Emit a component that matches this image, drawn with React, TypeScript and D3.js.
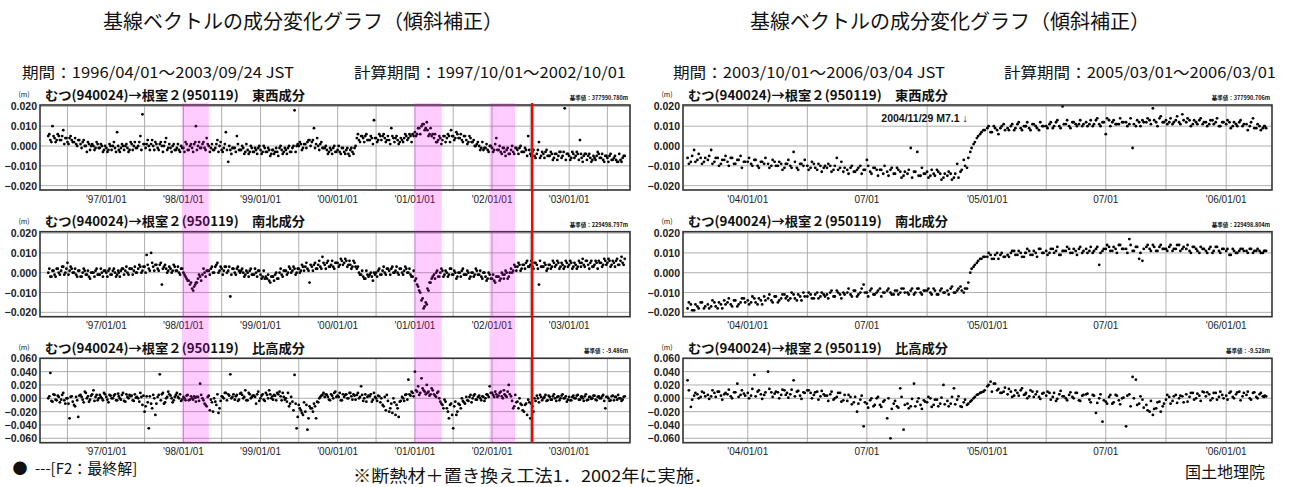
import React from 'react';
import * as d3 from 'd3';

// ---------------- data (mm) ----------------
// left: 1996/04 .. 2003/09; set A on day 1, 11, 21; set B on day 6, 16, 26 (last month up to 09/16)
const leftDaysA = [1, 11, 21];
const leftDaysB = [6, 16, 26];
// right: 2003/10 .. 2006/03/04; set A on day 1,6,..,26 (+03/01); set B on day 3,8,..,28 (+03/03)
const rightDaysA = [1, 6, 11, 16, 21, 26];
const rightDaysB = [3, 8, 13, 18, 23, 28];

const ewLeft = [
  5, 3, 10, 4, 3, 5, 3, 8, 4, 2, 4, 3, 2, 1, 3, 1, 2, 0, -3, 1, 0, 0, -1, 1, -1, 0, -2,
  -1, -2, 0, 0, -1, 7, -2, -1, 0, 0, -1, -2, 1, 0, -1, 0, 5, 16, 1, 1, 0, 1, 0, 2, -1, 1, 0, 0, 4, -1, -1, 0, -2, -1, -2, 0,
  -1, 2, -2, 0, -1, 1, 10, 0, -1, 1, -1, 4, 0, -1, -2, -1, 3, 0, -2, -1, 7, -8, -2, -1, -1, 5, -2, -2, -1, -3, -2, -3, -1, -3, -2, -1,
  -2, -3, -1, -3, -2, -4, -2, -3, -3, -1, -2, -3, -2, -1, -3, -1, 18, 0, 0, 1, -1, 1, 2, 3, 2, 9, 1, 0, 1, -1, -1, -2, -3, -2, -1, -3,
  -2, -3, -1, -3, -2, -4, -2, -3, -1, 4, 3, 5, 4, 5, 3, 3, 4, 13, 4, 3, 5, 5, 4, 3, 3, 9, 4, 4, 3, 2, 3, 4, 5, 4, 5, 6,
  7, 6, 9, 10, 11, 9, 8, 6, 5, 4, 2, 3, 4, 3, 5, 4, 5, 8, 5, 4, 6, 4, 3, 5, 3, 2, 4, 2, 0, 1, 0, -1, -2, -1, -2, 0,
  -1, -2, 4, -2, -3, -1, -3, -2, -4, -2, -3, -1, -2, -1, -3, -3, -2, 5, -4, -3, -5, -4, 2, -5, -4, -3, -5, -5, -4, -6, -4, -5, -3, -5, 19, -4,
  -5, -6, -4, -5, -4, 3, -6, -5, -4, -5, -6, -7, -6, -5, -4, -6, -7, -5, -6, -5, -7, -6, -7, -8, -7, -6, -5,
];
const ewLeftB = [
  6, 2, 5, 2, 6, 3, 5, 1, 4, 1, 5, 2, 4, 0, 3, -1, 3, 0, 2, -2, 1, -2, 2, -1, 1, -3, 0,
  -3, 1, -2, 2, -3, 0, -3, 1, -2, 1, -3, 2, -2, 2, -1, 2, -2, 1, -1, 3, -2, 3, -2, 1, -2, 2, -3, 2, -2, 1, -3, 1, -2, 1, -3, -1,
  -3, 1, -2, 1, -3, 2, -2, 2, -1, 2, -2, 1, -3, 1, -2, 1, -3, 2, -3, 1, -2, 0, -4, -1, -3, 1, -2, 0, -4, 1, -4, 0, -3, -1, -4, 0,
  -4, 0, -3, -1, -5, -2, -4, -1, -5, 0, -4, -1, -4, 0, -3, 0, -3, 1, 2, -2, 1, -1, 3, 0, 3, -1, 4, -2, 2, -1, 0, -4, -1, -4, 0, -3,
  0, -4, -1, -4, -1, -5, -1, -4, 0, 6, 2, 5, 2, 6, 3, 5, 1, 4, 2, 6, 3, 6, 2, 5, 1, 5, 2, 5, 1, 4, 2, 6, 3, 6, 2, 5,
  5, 9, 6, 11, 8, 12, 5, 9, 6, 6, 2, 5, 1, 5, 2, 6, 2, 5, 3, 7, 4, 6, 2, 5, 1, 5, 2, 3, 0, 2, -2, 2, -1, 1, -3, 0,
  -3, 1, -2, 0, -4, -1, -5, -1, -4, 0, -4, -1, -4, 0, -3, -1, -5, -2, -5, -2, -6, -2, -6, -3, -6, -2, -5, -3, -7, -4, -7, -3, -6, -3, -7, -4,
  -7, -3, -6, -3, -7, -4, -8, -4, -7, -4, -8, -5, -7, -3, -6, -4, -8, -5, -8, -4, -7, -5, -8, -4, -8, -5,
];

const nsLeft = [
  0, -2, 1, -1, 2, 0, 1, 3, 0, 5, 1, 2, 0, -1, 1, -2, 0, 1, -1, -2, 0, 0, 1, -1, -1, 0, 1,
  0, 1, -1, 1, 0, -1, 0, 1, 2, 1, 0, 2, 2, 1, 0, 2, 3, 1, 3, 9, 2, 10, 3, 4, 2, 4, -6, 3, 2, 1, 2, 1, 3, 1, 0, 2,
  0, -2, -4, -6, -8, -7, -5, -3, -2, -1, 0, 1, 1, 2, 0, 3, 5, 1, 2, 1, 3, 1, -12, 2, 0, 2, 1, 1, 0, -1, 0, 1, -1, -1, 0, 1,
  -1, -2, -3, -3, -4, -2, -2, -1, -3, 0, -1, 1, 1, 0, 2, 1, 2, 0, 2, 1, 3, 3, 2, -5, 3, 4, 2, 4, 3, 8, 4, 5, 3, 4, 3, 5,
  5, 4, 6, 5, 6, 4, 4, 3, 5, 2, 0, -1, -2, -3, -1, -1, -2, 0, 0, 1, -1, 1, 0, 2, 1, 2, 0, 1, 0, 2, 0, 1, 2, 0, -1, -2,
  -4, -6, -9, -14, -18, -15, -8, -5, -3, -1, 0, -2, 0, 1, -1, 0, -1, 2, -1, 0, -2, 0, 1, -1, -1, 0, -2, 0, -1, 1, -1, -2, 0, -2, -3, -1,
  -3, -4, -2, -2, -3, -1, -1, 0, -2, 2, 1, 3, 3, 4, 2, 4, 5, 3, 4, 3, 5, 4, -6, 3, 3, 4, 2, 4, 3, 5, 4, 5, 3, 4, 3, 5,
  4, 5, 3, 4, 3, 5, 5, 4, 6, 4, 5, 3, 4, 5, 6, 5, 4, 6, 5, 6, 4, 5, 6, 4, 6, 5, 7,
];
const nsLeftB = [
  2, -2, 1, -2, 2, -1, 3, -1, 2, -1, 3, 0, 2, -2, 1, -2, 2, -1, 1, -3, 0, -2, 2, -1, 2, -2, 1,
  -2, 2, -1, 2, -2, 1, -2, 2, -1, 3, -1, 2, -1, 3, 0, 4, 0, 3, 0, 4, 1, 5, 1, 4, 1, 5, 2, 4, 0, 3, 0, 4, 1, 3, -1, 2,
  -1, -3, -4, -5, -9, -6, -5, -1, -4, 2, -2, 1, -1, 3, 0, 4, 0, 3, -1, 3, 0, 3, -1, 2, -1, 3, 0, 2, -2, 1, -2, 2, -1, 2, -2, 1,
  -3, 1, -2, -1, -5, -2, -4, 0, -3, 2, -2, 1, -1, 3, 0, 3, -1, 2, 0, 4, 1, 5, 1, 4, 1, 5, 2, 6, 2, 5, 2, 6, 3, 6, 2, 5,
  3, 7, 4, 7, 3, 6, 2, 6, 3, 3, -1, 1, -3, 1, -2, 0, -4, -1, -2, 2, -1, 3, -1, 2, -1, 3, 0, 3, -1, 2, -1, 3, 0, 2, -2, 1,
  -3, -7, -10, -13, -17, -16, -9, -5, -2, -3, 1, -2, 2, -2, 1, -2, 2, -1, 1, -3, 0, -2, 2, -1, 1, -3, 0, -2, 2, -1, 1, -3, 0, -4, 0, -3,
  -1, -5, -2, -4, 0, -3, 1, -3, 0, 0, 4, 1, 5, 1, 4, 2, 6, 3, 6, 2, 5, 2, 6, 3, 5, 1, 4, 2, 6, 3, 6, 2, 5, 2, 6, 3,
  6, 2, 5, 2, 6, 3, 7, 3, 6, 2, 6, 3, 6, 2, 5, 3, 7, 4, 7, 3, 6, 3, 7, 4, 8, 4,
];

const udLeft = [
  0, 38, -5, 5, -3, 2, -2, 8, -8, 0, -30, 3, -10, 2, -28, 5, -2, 10, 0, -5, 4, 12, 2, -3, 5, 0, 8,
  2, -6, 4, 0, 6, -3, 3, -2, 8, -5, 2, 5, 4, -4, 1, 0, 8, -10, -20, 3, -45, -8, 5, -25, 2, 36, 6, -8, 0, 10, 4, -6, 2, 8, 0, -4,
  2, -3, 5, -2, 0, 3, -5, 2, 22, 0, -8, -12, 4, -2, -20, -5, 6, -15, 3, 0, 8, 6, 36, 2, -2, 5, -2, 8, 0, 12, -3, 6, 2, 4, -8, 10,
  0, 6, -4, 5, 12, 0, -2, 4, 8, 10, -3, 2, 0, 8, -8, -5, 35, -45, -10, -18, -25, -20, -47, -12, -15, -8, -30, -6, 2, 5, 2, 5, -2, 6, 0, 10,
  4, 8, -3, 2, 6, 0, 8, -2, 4, 5, 0, 18, -4, 6, 2, 3, -5, 8, 0, 4, -6, -10, 2, 5, -20, -8, 0, -25, -15, -5, 2, -4, 6, 28, 4, 8,
  40, 10, 5, 30, 12, 6, 8, 4, 15, 6, 2, 10, -5, -10, -2, -15, -30, -8, -45, -5, -20, -10, 0, -6, 2, -4, 5, 0, 6, -2, 4, -3, 2, 0, 5, 18,
  8, 2, 6, 4, 10, 0, 6, 2, 20, 3, -15, 5, -5, 0, -10, -20, -8, -2, -30, -12, 0, 4, -6, 2, 0, 5, -3, 2, -2, 6, -4, 3, 0, 6, 0, -5,
  2, -3, 4, 0, 5, -2, 3, -4, 6, -2, 2, 0, 4, -3, 3, 0, 5, -15, 2, -4, 3, -3, 2, 5, 0, -2, 3,
];
const udLeftB = [
  3, -4, 6, -2, 4, -6, 5, -3, 0, -8, 2, -5, -12, -3, 4, 2, -6, 8, 3, -2, 6, -4, 5, 0, 2, -3, 6,
  -2, 5, 0, 4, -3, 7, 0, 5, -4, 6, 0, 3, -3, 6, 2, -5, 2, 4, -12, -6, 3, -15, 0, -8, 5, -3, 8, -6, 2, 6, 0, -3, 5, 2, 6, -2,
  0, 4, -3, 3, -2, 1, 2, -4, 5, -3, -10, 2, -18, -6, 0, -10, -22, -4, 2, 8, -3, 4, 0, 6, 3, -4, 7, 5, 2, -3, 8, 0, 4, 2, 6, -4,
  4, -2, 8, 0, 6, 3, 5, -3, 6, 3, 8, -2, -5, -12, 2, -18, -8, -28, -15, -22, -6, -10, -30, -15, -20, -12, -5, 0, 4, 8, 6, 2, -3, 4, 8, 2,
  2, -3, 6, 5, 0, 8, 3, 6, -2, 8, 2, 5, 0, -5, 4, 6, -2, 2, -4, 3, 0, -12, -18, -4, -15, -22, -6, -10, -28, -4, 0, 5, -2, 6, 10, 3,
  12, 18, 8, 15, 10, 20, 10, 6, 12, 4, 8, 0, -8, -15, -5, -20, -10, -25, -12, -25, -8, -15, -4, -8, -3, 2, -6, 4, -2, 2, 0, 3, -4, 6, 2, 8,
  5, 10, 2, 8, 3, 12, 4, 10, 6, -4, -12, -6, -15, -8, -18, -10, -25, -6, -8, -20, -4, 0, 5, -3, 2, -4, 4, -2, 3, 0, 2, -3, 4, 0, 3, -2,
  -3, 2, 0, 4, -2, 2, 0, 3, -3, 2, -1, 4, -2, 2, 0, 3, -4, 2, 0, -3, 4, 2, -2, 0, -4, 2,
];

const ewRight = [
  -6, -8, -2, -7, -6, -8, -7, -2, -8, -6, -9, -7, -8, -6, -9, -7, -5, -8,
  -8, -9, -7, -10, -8, -9, -9, -10, -8, -10, -9, -11, -9, -10, -3, -11, -9, -10, -10, -11, -9, -12, -10, -11,
  -11, -10, -12, -6, -11, -13, -12, -11, -13, -12, -10, -12, -7, -13, -11, -12, -12, -14, -13, -12, -14, -11, -13, -15,
  -14, -1, -13, -3, -15, -14, -13, -15, -14, -12, -14, -16, -15, -14, -16, -9, -13, -7, -11, -3, 1, 4, 6, 8,
  9, 7, 10, 8, 9, 11, 9, 10, 8, 11, 9, 10, 10, 9, 11, 10, 8, 10, 10, 11, 9, 12, 10, 20,
  11, 10, 12, 11, 11, 10, 12, 11, 10, 13, 11, 12, 6, 13, 12, 11, 11, 12, 12, 11, -1, 10, 12, 13,
  12, 13, 19, 12, 14, 12, 13, 12, 11, 13, 12, 16, 12, 13, 11, 12, 13, 11, 12, 11, 13, 12, 10, 12,
  11, 12, 10, 11, 12, 10, 11, 10, 14, 9, 10, 9, 10,
];
const ewRightB = [
  -9, -5, -8, -4, -9, -6, -5, -9, -6, -10, -7, -5, -10, -6, -9, -7, -11, -8,
  -6, -10, -7, -11, -8, -6, -11, -7, -10, -8, -12, -9, -7, -11, -8, -12, -9, -7, -12, -8, -11, -9, -13, -10,
  -9, -13, -10, -12, -8, -11, -14, -10, -13, -11, -14, -12, -10, -14, -11, -15, -12, -10, -15, -11, -14, -12, -16, -13,
  -12, -16, -13, -15, -11, -14, -16, -12, -15, -13, -17, -14, -13, -17, -14, -16, -12, -10, -6, -1, 2, 5, 7, 8,
  10, 7, 9, 6, 10, 8, 8, 11, 9, 12, 8, 10, 12, 8, 11, 9, 12, 10, 9, 12, 10, 13, 9, 11,
  13, 9, 12, 10, 13, 11, 10, 13, 11, 14, 10, 12, 14, 10, 13, 11, 14, 12, 10, 14, 11, 13, 10, 12,
  14, 11, 13, 10, 15, 12, 11, 14, 12, 15, 11, 13, 14, 10, 13, 11, 14, 12, 10, 13, 11, 14, 10, 12,
  13, 9, 12, 10, 13, 11, 8, 12, 9, 11, 8, 10, 9,
];

const nsRight = [
  -18, -16, -19, -17, -15, -18, -16, -17, -15, -18, -16, -14, -15, -16, -14, -17, -15, -13,
  -14, -15, -13, -16, -14, -12, -13, -14, -12, -15, -13, -11, -12, -13, -11, -14, -12, -10, -12, -11, -13, -10, -12, -11,
  -11, -10, -12, -9, -11, -10, -10, -11, -9, -12, -10, -6, -10, -9, -11, -10, -8, -10, -9, -10, -11, -9, -10, -8,
  -10, -9, -11, -8, -10, -9, -9, -10, -8, -11, -9, -10, -9, -8, -10, -9, -7, -10, -8, 0, 3, 5, 7, 8,
  8, 9, 7, 10, 9, 8, 9, 10, 11, 9, 10, 8, 10, 11, 9, 10, 12, 10, 11, 10, 12, 11, 9, 11,
  11, 12, 10, 11, 12, 10, 12, 11, 10, 12, 4, 11, 12, 13, 11, 12, 14, 12, 12, 17, 11, 13, 7, 6,
  13, 12, 14, 11, 13, 12, 12, 13, 11, 12, 14, 12, 12, 11, 13, 12, 10, 12, 11, 12, 10, 13, 11, 12,
  11, 9, 12, 10, 11, 12, 11, 12, 10, 11, 11, 10, 11,
];
const nsRightB = [
  -15, -19, -16, -18, -15, -17, -18, -14, -17, -15, -18, -16, -13, -17, -14, -16, -13, -15,
  -16, -12, -15, -13, -16, -14, -11, -15, -12, -14, -11, -13, -14, -10, -13, -11, -14, -12, -10, -13, -11, -13, -10, -12,
  -13, -9, -12, -10, -13, -11, -8, -12, -9, -11, -8, -10, -12, -8, -11, -9, -12, -10, -8, -11, -9, -11, -8, -10,
  -11, -8, -10, -8, -11, -9, -8, -11, -9, -11, -8, -10, -11, -7, -10, -8, -9, -8, -5, 2, 4, 6, 7, 8,
  10, 7, 9, 7, 10, 8, 8, 11, 9, 11, 8, 10, 12, 9, 11, 8, 12, 10, 9, 12, 10, 13, 9, 11,
  13, 10, 12, 9, 13, 11, 10, 13, 11, 13, 10, 12, 14, 11, 13, 10, 14, 12, 10, 14, 11, 13, 10, 12,
  14, 11, 13, 11, 14, 12, 11, 14, 12, 14, 11, 13, 14, 10, 13, 11, 13, 12, 10, 13, 11, 13, 10, 12,
  12, 9, 11, 10, 12, 11, 10, 12, 11, 12, 10, 11, 11,
];

const udRight = [
  27, -13, 4, 6, 2, 8, 5, 3, 8, 10, 4, 6, 6, 3, 9, 22, 5, 7,
  8, 4, 35, 10, 6, 5, 40, 9, 7, 9, 5, 12, 8, 6, 27, 10, 4, 9, 12, 8, 5, 10, 3, 6,
  4, 6, -2, 2, 8, -3, -4, 2, -6, -20, -2, -42, -8, -3, -12, 0, -10, -5, -30, -60, -8, -12, 15, -47,
  -8, -12, 22, -5, -10, -3, -6, 0, -10, -2, -8, 20, -4, -8, 15, -2, -12, -6, -10, -5, 0, 5, 8, 10,
  18, 25, 22, 12, 8, 10, 6, 10, 4, 8, 12, 5, 8, 3, 10, 6, 2, 7, 4, 8, 2, -4, 6, 3,
  0, 5, 2, 8, -3, 4, 6, -2, 5, -22, 0, -35, -5, 2, -8, 5, -3, 0, -42, 6, 32, 28, -8, -2,
  -10, -20, -25, -15, -5, -12, -2, 2, -4, 5, 0, 3, 6, 2, 8, 0, 4, 10, 3, 6, 0, 8, 2, 5,
  4, 8, 2, 6, 10, 3, 5, 0, 8, 2, 6, 3, 4,
];
const udRightB = [
  12, -2, 8, 0, 10, 3, -1, 12, 2, 10, -2, 8, 13, 0, 9, 2, 12, 4,
  0, 14, 3, 12, -1, 9, 14, 2, 10, 0, 13, 5, 1, 13, 3, 11, -1, 8, 12, 0, 9, -2, 11, 4,
  -4, 10, 0, 8, -5, 5, 5, -9, 2, -8, 4, -6, -14, 0, -10, 2, -13, -3, 0, -16, -4, -14, 2, -10,
  -15, -1, -12, 0, -16, -5, 2, -13, -2, -12, 1, -9, -12, 2, -9, 3, -13, -2, -8, -3, 2, 6, 9, 12,
  20, 10, 22, 14, 8, 16, 14, 2, 12, 4, 15, 6, 0, 12, 2, 10, -1, 8, 10, -2, 8, -1, 11, 3,
  -3, 9, 0, 8, -4, 5, 7, -6, 4, -7, 6, -3, -8, 5, -6, 4, -9, 1, 4, -12, 0, -10, 3, -14,
  -18, -4, -16, -6, -20, -8, 5, -8, 3, -7, 4, -6, -5, 8, -2, 7, -4, 9, 9, -3, 8, -2, 10, 0,
  -2, 10, 0, 9, -3, 8, 10, -2, 9, 0, 8, 2, 3,
];

const refLeft = ['377990.780m', '229498.797m', '-9.486m'];
const refRight = ['377990.706m', '229498.804m', '-9.528m'];

const hTicks = [-0.02, -0.01, 0, 0.01, 0.02];
const vTicks = [-0.06, -0.04, -0.02, 0, 0.02, 0.04, 0.06];

const leftGrid = ['1996-07-01', '1997-01-01', '1997-07-01', '1998-01-01', '1998-07-01', '1999-01-01', '1999-07-01',
  '2000-01-01', '2000-07-01', '2001-01-01', '2001-07-01', '2002-01-01', '2002-07-01', '2003-01-01', '2003-07-01'];
const leftLabels = [['1997-01-01', "'97/01/01"], ['1998-01-01', "'98/01/01"], ['1999-01-01', "'99/01/01"],
  ['2000-01-01', "'00/01/01"], ['2001-01-01', "'01/01/01"], ['2002-01-01', "'02/01/01"], ['2003-01-01', "'03/01/01"]];
const rightGrid = ['2004-01-01', '2004-04-01', '2004-07-01', '2004-10-01', '2005-01-01', '2005-04-01', '2005-07-01',
  '2005-10-01', '2006-01-01'];
const rightLabels = [['2004-01-01', "'04/01/01"], ['2004-07-01', '07/01'], ['2005-01-01', "'05/01/01"],
  ['2005-07-01', '07/01'], ['2006-01-01', "'06/01/01"]];

const bands = [['1997-12-25', '1998-05-01'], ['2000-12-28', '2001-05-08'], ['2001-12-20', '2002-04-20']];
const redLine = '2002-07-10';
const quake = '2004-11-29';

const title = '基線ベクトルの成分変化グラフ（傾斜補正）';
const station = 'むつ(940024)→根室２(950119)　';
const comps = ['東西成分', '南北成分', '比高成分'];

// ---------------- layout ----------------
const parse = d3.timeParse('%Y-%m-%d');
const p = (s: string) => parse(s) as Date;

function sampleDates(start: string, months: number, days: number[], tail: string[] = []) {
  const s = p(start);
  const out: Date[] = [];
  for (let i = 0; i < months; i++) for (const d of days) out.push(new Date(s.getFullYear(), s.getMonth() + i, d));
  return out.concat(tail.map(p));
}

const leftDates = sampleDates('1996-04-01', 90, leftDaysA)
  .concat(sampleDates('1996-04-01', 89, leftDaysB, ['2003-09-06', '2003-09-16']));
const rightDates = sampleDates('2003-10-01', 29, rightDaysA, ['2006-03-01'])
  .concat(sampleDates('2003-10-01', 29, rightDaysB, ['2006-03-03']));

const rows = [
  { top: 105, bottom: 190, domain: [-0.0222, 0.0207], ticks: hTicks },
  { top: 231.7, bottom: 316.7, domain: [-0.0222, 0.0207], ticks: hTicks },
  { top: 358.3, bottom: 442.7, domain: [-0.0666, 0.06], ticks: vTicks },
];

const panels = [
  {
    x0: 40, x1: 630, domain: ['1996-02-22', '2003-10-16'], dates: leftDates,
    series: [ewLeft.concat(ewLeftB), nsLeft.concat(nsLeftB), udLeft.concat(udLeftB)],
    refs: refLeft, grid: leftGrid, labels: leftLabels,
    cx: 303, period: '期間：1996/04/01～2003/09/24 JST', calc: '計算期間：1997/10/01～2002/10/01',
    px: 22, cxEnd: 626,
  },
  {
    x0: 683, x1: 1272, domain: ['2003-09-24', '2006-03-12'], dates: rightDates,
    series: [ewRight.concat(ewRightB), nsRight.concat(nsRightB), udRight.concat(udRightB)],
    refs: refRight, grid: rightGrid, labels: rightLabels,
    cx: 950, period: '期間：2003/10/01～2006/03/04 JST', calc: '計算期間：2005/03/01～2006/03/01',
    px: 673, cxEnd: 1276,
  },
];

const JP = "'Noto Sans CJK JP', 'Noto Sans', sans-serif";
const NUM = "'Liberation Sans', Arial, sans-serif";
const fmt = d3.format('.3f');

function Panel({ pn, pi }: { pn: typeof panels[0]; pi: number }) {
  const x = d3.scaleTime().domain(pn.domain.map(p)).range([pn.x0, pn.x1]);
  return (
    <g>
      <text x={pn.cx} y={20} fontFamily={JP} fontSize={20} textAnchor="middle" dominantBaseline="central" fill="#111">{title}</text>
      <text x={pn.px} y={71} fontFamily={JP} fontSize={15} dominantBaseline="central" fill="#111" textLength={272} lengthAdjust="spacingAndGlyphs">{pn.period}</text>
      <text x={pn.cxEnd} y={71} fontFamily={JP} fontSize={15} textAnchor="end" dominantBaseline="central" fill="#111" textLength={272} lengthAdjust="spacingAndGlyphs">{pn.calc}</text>
      {rows.map((r, ri) => {
        const y = d3.scaleLinear().domain(r.domain).range([r.bottom, r.top]);
        const vals = pn.series[ri];
        return (
          <g key={ri}>
            <text x={pn.x0 - 16} y={r.top - 11} fontFamily={JP} fontSize={7} textAnchor="middle" dominantBaseline="central" fill="#111">(m)</text>
            <text x={pn.x0 + 5} y={r.top - 11} fontFamily={JP} fontSize={13} fontWeight="bold" dominantBaseline="central" fill="#111" textLength={260} lengthAdjust="spacingAndGlyphs">{station + comps[ri]}</text>
            <text x={pn.x1 - 2} y={r.top - 5} fontFamily={JP} fontSize={5.5} fontWeight="bold" textAnchor="end" fill="#111">{'基準値：' + pn.refs[ri]}</text>
            {r.ticks.map((t) => (
              <g key={t}>
                <line x1={pn.x0} x2={pn.x1} y1={y(t)} y2={y(t)} stroke="#9a9a9a" strokeWidth={0.8} />
                <text x={pn.x0 - 3} y={y(t)} fontFamily={NUM} fontSize={10.5} fontWeight="bold" textAnchor="end" dominantBaseline="central" fill="#222">{fmt(t)}</text>
              </g>
            ))}
            {pn.grid.map((g) => (
              <line key={g} x1={x(p(g))} x2={x(p(g))} y1={r.top} y2={r.bottom} stroke="#9a9a9a" strokeWidth={0.8} />
            ))}
            {pn.labels.map(([d, l]) => (
              <text key={d} x={x(p(d))} y={r.bottom + 9} fontFamily={NUM} fontSize={10} textAnchor="middle" dominantBaseline="central" fill="#222">{l}</text>
            ))}
            {pn.dates.map((d, i) => (vals[i] === undefined ? null :
              <circle key={i} cx={x(d)} cy={y(vals[i] / 1000)} r={1.4} fill="#000" />
            ))}
            <rect x={pn.x0} y={r.top} width={pn.x1 - pn.x0} height={r.bottom - r.top} fill="none" stroke="#333" strokeWidth={1.6} />
          </g>
        );
      })}
      {pi === 0 && (
        <g>
          {bands.map(([a, b]) => (
            <rect key={a} x={x(p(a))} y={103} width={x(p(b)) - x(p(a))} height={340} fill="rgb(255,0,255)" fillOpacity={0.2} />
          ))}
          <line x1={x(p(redLine))} x2={x(p(redLine))} y1={103} y2={443} stroke="#ff0000" strokeWidth={2.5} />
        </g>
      )}
      {pi === 1 && (
        <text x={x(p(quake)) + 2} y={118} fontFamily={NUM} fontSize={10.5} fontWeight="bold" textAnchor="end" dominantBaseline="central" fill="#111">2004/11/29 M7.1 ↓</text>
      )}
    </g>
  );
}

export default function App() {
  return (
    <svg width={1289} height={487} style={{ position: 'absolute', left: 0, top: 0, background: '#fff' }}>
      <rect width={1289} height={487} fill="#fff" />
      {panels.map((pn, i) => <Panel key={i} pn={pn} pi={i} />)}
      <text x={20} y={467} fontFamily={JP} fontSize={15} textAnchor="middle" dominantBaseline="central" fill="#111">●</text>
      <text x={35} y={467} fontFamily={JP} fontSize={15} dominantBaseline="central" fill="#111">---[F2：最終解]</text>
      <text x={353} y={475} fontFamily={JP} fontSize={16.5} dominantBaseline="central" fill="#111" textLength={359} lengthAdjust="spacingAndGlyphs">※断熱材＋置き換え工法1．2002年に実施．</text>
      <text x={1265} y={471} fontFamily={JP} fontSize={16} textAnchor="end" dominantBaseline="central" fill="#111">国土地理院</text>
    </svg>
  );
}
